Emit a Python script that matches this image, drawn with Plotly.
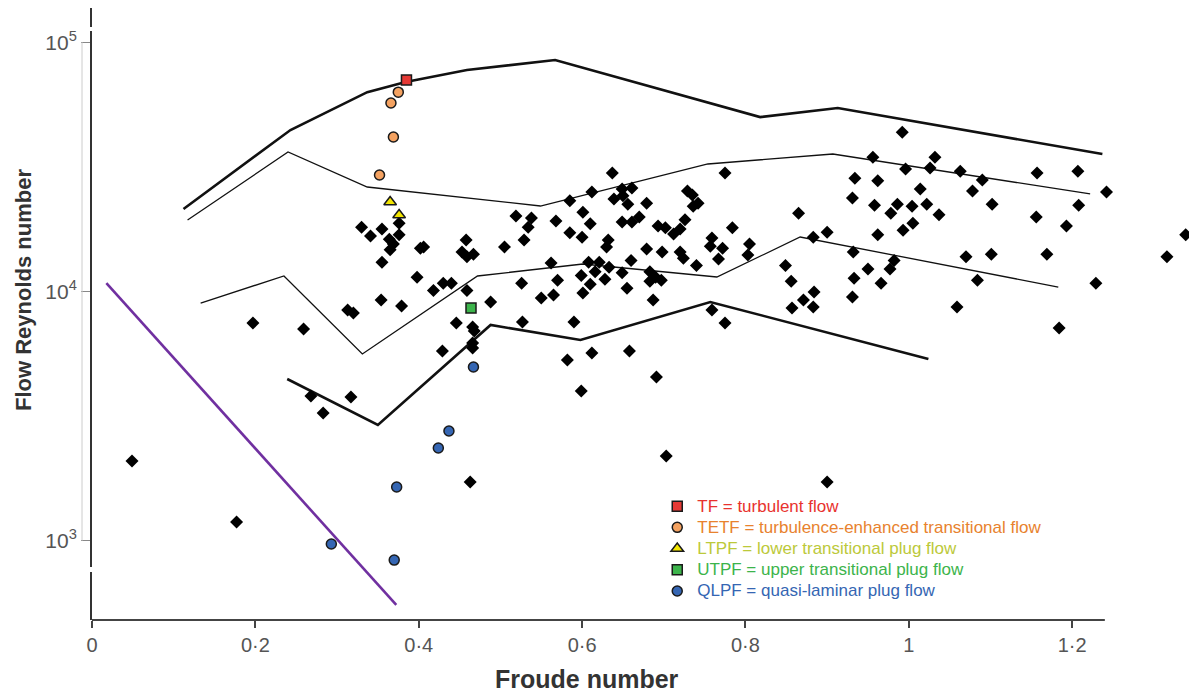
import plotly.graph_objects as go

# ---------------- data (Froude number, flow Reynolds number) ----------------
diamond_fr = [0.330, 0.341, 0.355, 0.364, 0.369, 0.365, 0.376, 0.376, 0.355, 0.402,
              0.406, 0.458, 0.453, 0.459, 0.467, 0.505, 0.519, 0.538, 0.534, 0.529,
              0.568, 0.562, 0.570, 0.526, 0.550, 0.565, 0.527, 0.488, 0.459, 0.440,
              0.430, 0.418, 0.398, 0.354, 0.379, 0.313, 0.320, 0.446, 0.466, 0.468,
              0.637, 0.585, 0.612, 0.649, 0.661, 0.639, 0.650, 0.656, 0.679, 0.601,
              0.610, 0.649, 0.661, 0.670, 0.585, 0.600, 0.632, 0.630, 0.679, 0.698,
              0.693, 0.702, 0.712, 0.720, 0.726, 0.729, 0.735, 0.742, 0.736, 0.775,
              0.784, 0.759, 0.757, 0.772, 0.767, 0.805, 0.803, 0.720, 0.724, 0.740,
              0.608, 0.621, 0.616, 0.633, 0.628, 0.649, 0.660, 0.599, 0.610, 0.601,
              0.655, 0.683, 0.690, 0.683, 0.697, 0.687, 0.759, 0.775, 0.590,
              0.992, 0.956, 0.996, 1.032, 1.026, 1.063, 0.934, 0.962, 0.931, 0.958,
              1.014, 0.986, 0.978, 1.004, 1.022, 1.037, 1.005, 0.993, 0.962, 0.865,
              0.900, 0.883, 0.932, 0.950, 0.982, 0.977, 0.966, 0.933, 0.931, 0.849,
              0.856, 0.884, 0.871, 0.883, 0.857, 1.059, 1.090, 1.078, 1.102, 1.157,
              1.207, 1.242, 1.208, 1.156, 1.193, 1.070, 1.101, 1.169, 1.084, 1.229,
              1.184, 1.316, 1.339, 0.197, 0.259, 0.429, 0.466, 0.466, 0.268, 0.283,
              0.317, 0.463, 0.582, 0.612, 0.658, 0.691, 0.599, 0.703, 0.900, 0.049,
              0.177]
diamond_re = [18100, 16700, 17800, 16200, 15500, 14700, 16900, 18800, 13100, 14900,
              15100, 16100, 14400, 13800, 14100, 15100, 20100, 19700, 18100, 16100,
              19200, 13000, 11100, 10800, 9420, 9680, 7545, 9070, 10100, 10800,
              10800, 10100, 11400, 9240, 8750, 8430, 8200, 7475, 7200, 6940,
              29900, 23100, 25100, 25800, 26000, 23500, 24200, 22400, 22600, 20800,
              18700, 19000, 19000, 19900, 17200, 16500, 16100, 15100, 14800, 14400,
              18300, 18000, 17000, 17800, 19400, 25300, 24400, 22600, 22000, 29900,
              18000, 16400, 15200, 14900, 13500, 15500, 14000, 14400, 13600, 12700,
              13100, 13100, 12000, 12500, 11200, 11900, 13300, 11600, 10700, 9860,
              10300, 12000, 11400, 11000, 11100, 9240, 8430, 7475, 7545,
              43600, 34600, 31000, 34600, 31300, 30400, 28500, 27800, 23700, 22200,
              25800, 22400, 20600, 22000, 22400, 20300, 18800, 17600, 16900, 20600,
              17300, 16500, 14400, 12300, 13300, 12300, 10800, 11300, 9500, 12700,
              11000, 9950, 9240, 8670, 8585, 8670, 28000, 25300, 22400, 29900,
              30400, 25100, 22200, 19900, 18300, 13800, 14100, 14100, 11100, 10800,
              7135, 13800, 16900, 7475, 7070, 5770, 6215, 5933, 3807, 3253,
              3771, 1719, 5310, 5665, 5770, 4538, 3987, 2186, 1719, 2088,
              1188]

tf_fr, tf_re = [0.385], [70600]
tetf_fr, tetf_re = [0.375, 0.366, 0.369, 0.352], [63070, 57060, 41680, 29340]
ltpf_fr, ltpf_re = [0.365, 0.376], [22870, 20270]
utpf_fr, utpf_re = [0.464], [8585]
qlpf_fr, qlpf_re = [0.467, 0.437, 0.424, 0.373, 0.293, 0.370], [4977, 2755, 2354, 1642, 970, 836]

# regime boundaries
b1_fr = [0.112, 0.243, 0.337, 0.384, 0.459, 0.567, 0.818, 0.913, 1.237]
b1_re = [21430, 44460, 63070, 69270, 77430, 84920, 50100, 54500, 35620]
b2_fr = [0.117, 0.240, 0.337, 0.549, 0.754, 0.907, 1.222]
b2_re = [19360, 36280, 26260, 22030, 32480, 35620, 24620]
b3_fr = [0.133, 0.235, 0.331, 0.472, 0.601, 0.765, 0.867, 1.183]
b3_re = [8990, 11540, 5614, 11540, 12890, 11430, 16540, 10420]
b4_fr = [0.239, 0.350, 0.488, 0.598, 0.757, 1.024]
b4_re = [4455, 2912, 7337, 6388, 9075, 5358]
purple_fr = [0.0176, 0.3725]
purple_re = [10810, 552]

regime_labels = ["TF", "TETF", "LTPF", "UTPF", "QLPF"]
label_fr = [0.816, 0.665, 0.743, 0.960, 0.755]
label_re = [76000, 45700, 19900, 9770, 4977]
label_colors = ["#e8322e", "#e8822e", "#bcc93a", "#3cb44b", "#3566b3"]

legend_names = ["TF = turbulent flow",
                "TETF = turbulence-enhanced transitional flow",
                "LTPF = lower transitional plug flow",
                "UTPF = upper transitional plug flow",
                "QLPF = quasi-laminar plug flow"]

x_ticks = [0, 0.2, 0.4, 0.6, 0.8, 1.0, 1.2]
x_ticktext = ["0", "0·2", "0·4", "0·6", "0·8", "1", "1·2"]
y_ticks = [1000, 10000, 100000]
y_ticktext = ["10<sup>3</sup>", "10<sup>4</sup>", "10<sup>5</sup>"]

FONT = "Liberation Sans, Arial, sans-serif"
PW, PH = 1104, 612  # plot-area size in px

fig = go.Figure()

# boundary lines
for xs, ys, w in [(b1_fr, b1_re, 2.6), (b2_fr, b2_re, 1.3), (b3_fr, b3_re, 1.3), (b4_fr, b4_re, 2.6)]:
    fig.add_trace(go.Scatter(x=xs, y=ys, mode="lines", line=dict(color="#111111", width=w),
                             showlegend=False, hoverinfo="skip"))
fig.add_trace(go.Scatter(x=purple_fr, y=purple_re, mode="lines",
                         line=dict(color="#7030a0", width=2.6), showlegend=False, hoverinfo="skip"))

# black diamonds
fig.add_trace(go.Scatter(x=diamond_fr, y=diamond_re, mode="markers",
                         marker=dict(symbol="diamond", size=10, color="black"),
                         showlegend=False, cliponaxis=False))

outline = dict(color="#1a1a1a", width=1.5)
groups = [
    (tf_fr, tf_re, "square", 10, "#e53935"),
    (tetf_fr, tetf_re, "circle", 10, "#f4a261"),
    (ltpf_fr, ltpf_re, "triangle-up", 11, "#f2e500"),
    (utpf_fr, utpf_re, "square", 10, "#3cb44b"),
    (qlpf_fr, qlpf_re, "circle", 10, "#3566b3"),
]
for (xs, ys, sym, sz, col), name, tcol in zip(groups, legend_names, label_colors):
    fig.add_trace(go.Scatter(x=xs, y=ys, mode="markers",
                             marker=dict(symbol=sym, size=sz, color=col, line=outline),
                             name=f"<span style='color:{tcol};font-size:17px'>{name}</span>"))

# regime labels
for t, xf, yr, c in zip(regime_labels, label_fr, label_re, label_colors):
    fig.add_annotation(x=xf, y=yr, text=t, showarrow=False,
                       font=dict(family=FONT, size=25, color=c))

# axis titles
fig.add_annotation(text="<b>Froude number</b>", xref="paper", yref="paper",
                   x=(587 - 92) / PW, y=-(679 - 620) / PH, xanchor="center", yanchor="middle",
                   showarrow=False, font=dict(family=FONT, size=25, color="#333333"))
fig.add_annotation(text="<b>Flow Reynolds number</b>", xref="paper", yref="paper",
                   x=-(92 - 23) / PW, y=(620 - 290) / PH, xanchor="center", yanchor="middle",
                   textangle=-90, showarrow=False,
                   font=dict(family=FONT, size=22, color="#333333"))

# x axis line (stops at 1.24) and decorative gray tick rule
fig.add_shape(type="line", xref="x", yref="paper", x0=0, x1=1.24, y0=0, y1=0,
              line=dict(color="#444444", width=1.8))
fig.add_shape(type="line", xref="paper", yref="y", x0=-10 / PW, x1=-10 / PW,
              y0=1000, y1=100000, line=dict(color="#cccccc", width=1))
# axis breaks
for y0p, y1p in [(27, 31), (567, 572)]:
    fig.add_shape(type="rect", xref="paper", yref="paper", x0=-5 / PW, x1=5 / PW,
                  y0=(620 - y1p) / PH, y1=(620 - y0p) / PH,
                  fillcolor="white", line=dict(width=0), layer="above")

# page body has an 8 px margin: size the figure so the plot area sits at px 92..1196 x 8..620
fig.update_layout(
    width=1189, height=685,
    margin=dict(l=84, r=1, t=0, b=73),
    plot_bgcolor="white", paper_bgcolor="white",
    font=dict(family=FONT, color="#555555"),
    xaxis=dict(range=[0, 1.3516], tickvals=x_ticks, ticktext=x_ticktext,
               showgrid=False, zeroline=False, showline=False,
               ticks="outside", ticklen=7, tickwidth=1.5, tickcolor="#444444",
               tickfont=dict(size=20, color="#555555")),
    yaxis=dict(type="log", range=[2.6817, 5.1376], tickvals=y_ticks, ticktext=y_ticktext,
               showgrid=False, zeroline=False, showline=True, linecolor="#333333", linewidth=1.8,
               ticks="outside", ticklen=9, tickwidth=1, tickcolor="#888888",
               tickfont=dict(size=21, color="#555555")),
    legend=dict(x=0.512, y=0.2115, xanchor="left", yanchor="top",
                bgcolor="rgba(0,0,0,0)", borderwidth=0,
                font=dict(family=FONT, size=14), itemsizing="trace"),
    showlegend=True,
)

fig.write_html("out.html")
